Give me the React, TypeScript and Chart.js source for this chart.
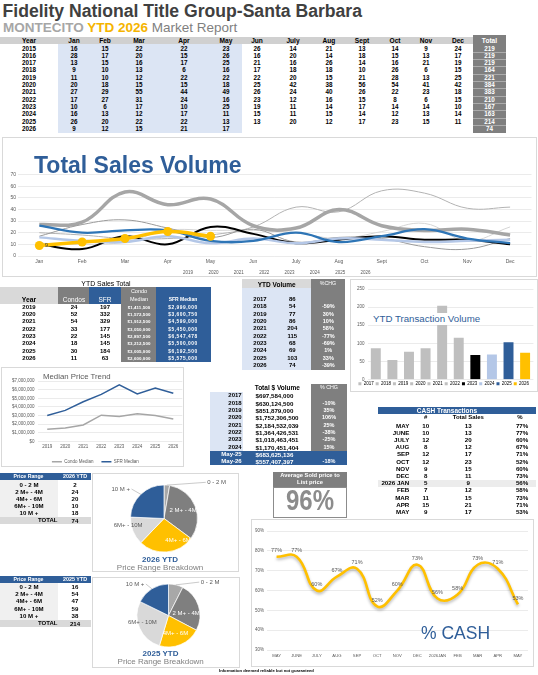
import React, { useEffect, useRef } from 'react';
import { Chart, registerables } from 'chart.js';

Chart.register(...registerables);

const FONT = '"Liberation Sans", Arial, Helvetica, sans-serif';
Chart.defaults.font.family = FONT;
Chart.defaults.color = '#595959';

const BLUE = '#2f5e99';
const LINE_BLUE = '#2e75b6';
const DGRAY = '#7f7f7f';
const LBLUE = '#dce5f4';
const HGRAY = '#d0d0d0';
const YELLOW = '#ffc000';
const BORDER = '#d9d9d9';

// ================= DATA =================
const monthHeaders = ['Jan', 'Feb', 'Mar', 'Apr', 'May', 'Jun', 'July', 'Aug', 'Sept', 'Oct', 'Nov', 'Dec'];
const tableYears = ['2015', '2016', '2017', '2018', '2019', '2020', '2021', '2022', '2023', '2024', '2025', '2026'];
const sales2015 = [16, 15, 22, 22, 23, 26, 14, 21, 13, 14, 9, 24];
const sales2016 = [28, 17, 20, 15, 26, 16, 20, 14, 18, 15, 13, 17];
const sales2017 = [13, 15, 16, 17, 25, 21, 16, 26, 14, 16, 21, 19];
const sales2018 = [9, 10, 13, 6, 16, 17, 18, 18, 10, 26, 6, 15];
const sales2019 = [11, 10, 12, 22, 22, 22, 20, 15, 21, 28, 13, 25];
const sales2020 = [20, 18, 15, 15, 18, 25, 42, 38, 56, 54, 41, 42];
const sales2021 = [27, 29, 55, 44, 49, 26, 24, 40, 26, 22, 23, 18];
const sales2022 = [17, 27, 31, 24, 16, 23, 12, 16, 15, 8, 6, 15];
const sales2023 = [10, 6, 17, 10, 25, 19, 11, 14, 17, 14, 14, 10];
const sales2024 = [16, 13, 12, 17, 11, 15, 11, 15, 14, 12, 13, 14];
const sales2025 = [26, 20, 22, 22, 13, 13, 20, 12, 17, 23, 15, 11];
const sales2026 = [9, 12, 15, 21, 17];
const yearTotals = [219, 219, 219, 164, 221, 384, 383, 210, 167, 163, 214, 74];
const tableRows = [sales2015, sales2016, sales2017, sales2018, sales2019, sales2020, sales2021, sales2022, sales2023, sales2024, sales2025, sales2026];

const lineYears = ['2019', '2020', '2021', '2022', '2023', '2024', '2025', '2026'];
const lineSeries = [sales2019, sales2020, sales2021, sales2022, sales2023, sales2024, sales2025, sales2026];

const ytdYears = ['2019', '2020', '2021', '2022', '2023', '2024', '2025', '2026'];
const ytdCondos = [24, 52, 54, 33, 22, 18, 30, 11];
const ytdSfr = [197, 332, 329, 177, 145, 145, 184, 63];
const condoMedian = [1411500, 1572500, 1912500, 3050000, 2897500, 3212500, 3005000, 2600000];
const sfrMedian = [2999000, 3600750, 4599000, 5450000, 6547478, 5500000, 6192500, 5575000];

const volYears = ['2017', '2018', '2019', '2020', '2021', '2022', '2023', '2024', '2025', '2026'];
const volValues = [86, 54, 77, 86, 204, 115, 68, 69, 103, 74];
const volChg = ['', '-59%', '30%', '10%', '58%', '-77%', '-69%', '1%', '33%', '-39%'];

const dollarLabels = ['2017', '2018', '2019', '2020', '2021', '2022', '2023', '2024', 'May-25', 'May-26'];
const dollarValues = ['$697,584,000', '$630,124,500', '$851,879,000', '$1,752,306,500', '$2,184,532,039', '$1,364,426,531', '$1,018,463,451', '$1,170,451,404', '$683,625,136', '$557,407,397'];
const dollarChg = ['', '-10%', '35%', '106%', '25%', '-38%', '-25%', '15%', '', '-18%'];

const cashMonths = ['MAY', 'JUNE', 'JULY', 'AUG', 'SEP', 'OCT', 'NOV', 'DEC', '2026 JAN', 'FEB', 'MAR', 'APR', 'MAY'];
const cashAxisLabels = ['MAY', 'JUNE', 'JULY', 'AUG', 'SEP', 'OCT', 'NOV', 'DEC', '2026JAN', 'FEB', 'MAR', 'APR', 'MAY'];
const cashCount = [10, 10, 12, 8, 12, 12, 9, 8, 5, 7, 11, 15, 9];
const cashTotal = [13, 13, 20, 12, 17, 23, 15, 11, 9, 12, 15, 21, 17];
const cashPct = [77, 77, 60, 67, 71, 52, 60, 73, 56, 58, 73, 71, 53];

const priceRanges = ['0 - 2 M', '2 M+ - 4M', '4M+ - 6M', '6M+ - 10M', '10 M +'];
const range2026 = [2, 24, 20, 10, 18];
const range2025 = [16, 54, 47, 59, 38];
const total2026 = 74;
const total2025 = 214;
const avgSoldToList = '96%';

// ================= STYLE HELPERS =================
const lineColors = ['#d5d5d5', '#b3b3b3', '#a6a6a6', '#9a9a9a', '#000000', '#b4c7e7', LINE_BLUE, YELLOW];
const lineWidths = [1, 1, 3.5, 1, 2, 2.5, 2.3, 3.5];
const volColors = ['#bfbfbf', '#bfbfbf', '#bfbfbf', '#bfbfbf', '#bfbfbf', '#bfbfbf', '#000000', '#b4c7e7', BLUE, YELLOW];
const pieColors = ['#a8a8a8', '#7f7f7f', YELLOW, '#d9d9d9', BLUE];

type TP = {
  x: number; cy: number; w: number; h?: number;
  children?: React.ReactNode;
  align?: 'left' | 'center' | 'right';
  size?: number; bold?: boolean; color?: string;
  style?: React.CSSProperties;
};
function T({ x, cy, w, h = 7, children, align = 'center', size = 6.3, bold = true, color = '#000', style }: TP) {
  return (
    <div style={{ position: 'absolute', left: x, top: cy - h / 2, width: w, height: h, lineHeight: `${h}px`, fontSize: size, fontWeight: bold ? 700 : 400, color, textAlign: align, whiteSpace: 'nowrap', ...style }}>
      {children}
    </div>
  );
}
function C(props: Omit<TP, 'x' | 'w'> & { cx: number; w?: number }) {
  const w = props.w ?? 60;
  const { cx, ...rest } = props;
  return <T {...rest} x={cx - w / 2} w={w} />;
}
function Rect({ x, y, w, h, bg, border }: { x: number; y: number; w: number; h: number; bg?: string; border?: string }) {
  return <div style={{ position: 'absolute', left: x, top: y, width: w, height: h, background: bg, border: border ? `1px solid ${border}` : undefined, boxSizing: 'border-box' }} />;
}
function ChartCanvas({ x, y, w, h, make }: { x: number; y: number; w: number; h: number; make: () => any }) {
  const ref = useRef<HTMLCanvasElement>(null);
  useEffect(() => {
    const chart = new Chart(ref.current as HTMLCanvasElement, make());
    return () => chart.destroy();
  }, []);
  return <canvas ref={ref} width={w} height={h} style={{ position: 'absolute', left: x, top: y, width: w, height: h }} />;
}

// ================= CHART CONFIGS =================
const firstPointLabel = {
  id: 'firstPointLabel',
  afterDatasetsDraw(chart: any) {
    const idx = chart.data.datasets.length - 1;
    const pt = chart.getDatasetMeta(idx).data[0];
    const ctx = chart.ctx;
    ctx.save();
    ctx.font = `6px ${FONT}`;
    ctx.fillStyle = '#404040';
    ctx.textAlign = 'left';
    ctx.textBaseline = 'middle';
    ctx.fillText(String(chart.data.datasets[idx].data[0]), pt.x + 5.3, pt.y - 0.3);
    ctx.restore();
  },
};

function makeSalesChart() {
  return {
    type: 'line',
    data: {
      labels: monthHeaders,
      datasets: lineYears.map((yr, i) => ({
        label: yr,
        data: lineSeries[i],
        borderColor: lineColors[i],
        backgroundColor: lineColors[i],
        borderWidth: lineWidths[i],
        tension: 0.4,
        fill: false,
        pointRadius: i === lineYears.length - 1 ? 4.5 : 0,
        pointBackgroundColor: YELLOW,
        pointBorderWidth: 0,
        order: lineYears.length - i,
      })),
    },
    options: {
      animation: false, responsive: false, events: [],
      layout: { padding: { top: 36.5, left: 5.4, right: 2, bottom: 0 } },
      scales: {
        x: { offset: true, grid: { display: false, drawTicks: false }, border: { display: false }, ticks: { font: { size: 5 }, padding: 2.2, color: '#595959' } },
        y: { min: 0, max: 70, ticks: { stepSize: 10, font: { size: 5 }, padding: 2, color: '#595959' }, grid: { color: '#e3e3e3', drawTicks: false, lineWidth: 0.7 }, border: { display: false } },
      },
      plugins: {
        legend: {
          position: 'bottom',
          labels: { usePointStyle: true, pointStyle: 'line', pointStyleWidth: 9, font: { size: 4.5 }, padding: 4.1, color: '#595959', sort: (a: any, b: any) => a.datasetIndex - b.datasetIndex },
        },
        tooltip: { enabled: false },
      },
    },
    plugins: [firstPointLabel],
  };
}

function makeMedianChart() {
  return {
    type: 'line',
    data: {
      labels: ytdYears,
      datasets: [
        { label: 'Condo Median', data: condoMedian, borderColor: '#a6a6a6', backgroundColor: '#a6a6a6', borderWidth: 1.5, pointRadius: 0, tension: 0 },
        { label: 'SFR Median', data: sfrMedian, borderColor: BLUE, backgroundColor: BLUE, borderWidth: 1.5, pointRadius: 0, tension: 0 },
      ],
    },
    options: {
      animation: false, responsive: false, events: [],
      layout: { padding: { top: 14, left: 6.3, right: 1.7, bottom: 0 } },
      scales: {
        x: { offset: true, grid: { display: false, drawTicks: false }, border: { display: false }, ticks: { font: { size: 4.5 }, padding: 2.3, color: '#595959' } },
        y: {
          min: 0, max: 7000000,
          ticks: { stepSize: 1000000, font: { size: 4.5 }, padding: 3.7, color: '#595959', callback: (v: any) => '$' + Number(v).toLocaleString('en-US') },
          grid: { color: '#e3e3e3', drawTicks: false, lineWidth: 0.7 }, border: { display: false },
        },
      },
      plugins: {
        legend: { position: 'bottom', labels: { usePointStyle: true, pointStyle: 'line', pointStyleWidth: 10, font: { size: 4.5 }, padding: 8, color: '#595959' } },
        tooltip: { enabled: false },
      },
    },
  };
}

function makeVolumeChart() {
  return {
    type: 'bar',
    data: { labels: volYears, datasets: [{ data: volValues, backgroundColor: volColors, barPercentage: 0.6, categoryPercentage: 1 }] },
    options: {
      animation: false, responsive: false, events: [],
      layout: { padding: { top: 7, left: 2, right: 2.6, bottom: 0 } },
      scales: {
        x: { display: false },
        y: { min: 0, max: 250, ticks: { stepSize: 50, font: { size: 4.5 }, padding: 3, color: '#595959' }, grid: { color: '#e3e3e3', drawTicks: false, lineWidth: 0.7 }, border: { display: false } },
      },
      plugins: {
        legend: {
          position: 'bottom',
          labels: {
            boxWidth: 3, boxHeight: 3, font: { size: 4.5 }, padding: 2, color: '#595959',
            generateLabels: () => volYears.map((t, i) => ({ text: t, fillStyle: volColors[i], strokeStyle: volColors[i], lineWidth: 0, hidden: false, index: i, datasetIndex: 0 })),
          },
        },
        tooltip: { enabled: false },
      },
    },
  };
}

const cashLabels = {
  id: 'cashLabels',
  beforeDatasetDraw(chart: any) {
    const ctx = chart.ctx;
    ctx.save();
    ctx.shadowColor = 'rgba(0,0,0,0.28)';
    ctx.shadowBlur = 3;
    ctx.shadowOffsetY = 2;
  },
  afterDatasetDraw(chart: any) {
    chart.ctx.restore();
  },
  afterDatasetsDraw(chart: any) {
    const ctx = chart.ctx;
    const meta = chart.getDatasetMeta(0);
    const data = chart.data.datasets[0].data;
    ctx.save();
    ctx.font = `5.5px ${FONT}`;
    ctx.fillStyle = '#595959';
    ctx.textAlign = 'center';
    ctx.textBaseline = 'bottom';
    meta.data.forEach((pt: any, i: number) => ctx.fillText(`${data[i]}%`, pt.x, pt.y - 3.5));
    ctx.restore();
  },
};

function makeCashChart() {
  return {
    type: 'line',
    data: { labels: cashAxisLabels, datasets: [{ data: cashPct, borderColor: YELLOW, borderWidth: 2.6, tension: 0.45, pointRadius: 0, fill: false }] },
    options: {
      animation: false, responsive: false, events: [],
      layout: { padding: { top: 12, left: 1.5, right: 5, bottom: 5.3 } },
      scales: {
        x: { offset: true, grid: { display: false, drawTicks: false }, border: { display: false }, ticks: { font: { size: 4.2 }, padding: 3.3, autoSkip: false, maxRotation: 0, color: '#595959' } },
        y: { min: 30, max: 90, ticks: { stepSize: 10, font: { size: 4.5 }, padding: 2.5, color: '#595959', callback: (v: any) => `${v}%` }, grid: { color: '#e3e3e3', drawTicks: false, lineWidth: 0.7 }, border: { display: false } },
      },
      plugins: { legend: { display: false }, tooltip: { enabled: false } },
    },
    plugins: [cashLabels],
  };
}

type PieSpec = { dx: number; dy: number; color: string; line?: boolean };
function pieLabelPlugin(specs: PieSpec[]) {
  return {
    id: 'pieLabels',
    afterDatasetsDraw(chart: any) {
      const ctx = chart.ctx;
      const meta = chart.getDatasetMeta(0);
      const texts = chart.data.labels;
      ctx.save();
      ctx.font = `6px ${FONT}`;
      ctx.textAlign = 'center';
      ctx.textBaseline = 'middle';
      meta.data.forEach((arc: any, i: number) => {
        const p = arc.getProps(['x', 'y', 'startAngle', 'endAngle', 'outerRadius'], true);
        const s = specs[i];
        const lx = p.x + s.dx * p.outerRadius;
        const ly = p.y + s.dy * p.outerRadius;
        if (s.line) {
          const mid = (p.startAngle + p.endAngle) / 2;
          const ex = p.x + Math.cos(mid) * p.outerRadius;
          const ey = p.y + Math.sin(mid) * p.outerRadius;
          const tw = ctx.measureText(texts[i]).width;
          const tx = s.dx > 0 ? lx - tw / 2 - 1.5 : lx + tw / 2 + 1.5;
          ctx.strokeStyle = '#a6a6a6';
          ctx.lineWidth = 0.6;
          ctx.beginPath();
          ctx.moveTo(ex, ey);
          ctx.lineTo(tx, ly);
          ctx.stroke();
        }
        ctx.fillStyle = s.color;
        ctx.fillText(texts[i], lx, ly);
      });
      ctx.restore();
    },
  };
}

const pie2026Specs: PieSpec[] = [
  { dx: 1.57, dy: -1.08, color: '#595959', line: true },
  { dx: 0.57, dy: -0.25, color: '#ffffff' },
  { dx: 0.42, dy: 0.64, color: '#ffffff' },
  { dx: -1.07, dy: 0.19, color: '#595959' },
  { dx: -1.29, dy: -0.88, color: '#595959', line: true },
];
const pie2025Specs: PieSpec[] = [
  { dx: 1.32, dy: -1.06, color: '#595959', line: true },
  { dx: 0.56, dy: -0.06, color: '#ffffff' },
  { dx: 0.22, dy: 0.56, color: '#ffffff' },
  { dx: -0.83, dy: 0.21, color: '#595959' },
  { dx: -1.06, dy: -1.0, color: '#595959', line: true },
];

function makePie(values: number[], specs: PieSpec[], padding: any) {
  return () => ({
    type: 'pie',
    data: { labels: priceRanges, datasets: [{ data: values, backgroundColor: pieColors, borderColor: '#ffffff', borderWidth: 0.7 }] },
    options: {
      animation: false, responsive: false, events: [],
      layout: { padding },
      plugins: { legend: { display: false }, tooltip: { enabled: false } },
    },
    plugins: [pieLabelPlugin(specs)],
  });
}

// ================= LAYOUT CONSTANTS =================
const topCols = [29, 74, 105, 139, 184, 226, 257, 293, 329, 362, 395, 426, 458];
const ytdCols = [29, 74, 105, 139, 183];

function PriceTable({ top, rowTop, rowH, yearLabel, values, total }: { top: number; rowTop: number; rowH: number; yearLabel: string; values: number[]; total: number }) {
  const totalCy = rowTop + values.length * rowH + rowH / 2 + 0.6;
  return (
    <>
      <Rect x={0} y={top} w={90.5} h={6.5} bg={BLUE} />
      <C cx={28.5} cy={top + 3.3} h={6.5} size={5.2} color="#fff">Price Range</C>
      <C cx={75} cy={top + 3.3} h={6.5} size={5.4} color="#fff">{yearLabel}</C>
      <Rect x={0} y={top + 6.5} w={58.3} h={values.length * rowH + 1} bg="#f0f0f0" />
      {values.map((v, i) => (
        <React.Fragment key={i}>
          <C cx={29} cy={rowTop + i * rowH + rowH / 2} size={6.1}>{priceRanges[i]}</C>
          <C cx={75} cy={rowTop + i * rowH + rowH / 2} size={6.1}>{v}</C>
        </React.Fragment>
      ))}
      <Rect x={0} y={totalCy - 3.8} w={90.5} h={7.6} bg="#d9d9d9" />
      <T x={10} w={47.5} cy={totalCy} align="right" size={6}>TOTAL</T>
      <C cx={75} cy={totalCy} size={6.1}>{total}</C>
    </>
  );
}

export default function App() {
  useEffect(() => {
    document.body.style.margin = '0';
  }, []);
  return (
    <div style={{ position: 'absolute', left: 0, top: 0, width: 538, height: 675, background: '#fff', fontFamily: FONT, overflow: 'hidden' }}>
      {/* Titles */}
      <T x={2.5} w={520} cy={10.5} h={20} size={17.6} color="#404040" align="left">Fidelity National Title Group-Santa Barbara</T>
      <T x={3} w={400} cy={27.5} h={15} size={13.5} align="left" bold={false} color="#7f7f7f">
        <span style={{ fontWeight: 700, color: '#a6a6a6' }}>MONTECITO </span>
        <span style={{ fontWeight: 700, color: '#f5b400' }}>YTD 2026 </span>
        <span>Market Report</span>
      </T>

      {/* Monthly table */}
      <Rect x={0} y={37.3} w={473} h={7.1} bg={HGRAY} />
      <Rect x={58.3} y={44.4} w={184} h={88.3} bg={LBLUE} />
      <Rect x={473} y={35} w={33} h={98} bg={DGRAY} />
      {tableYears.slice(1).map((yr, r) => (
        <div key={'sep' + yr} style={{ position: 'absolute', left: 473, top: 44.4 + (r + 1) * 7.32, width: 33, height: 0.6, background: 'rgba(255,255,255,0.35)' }} />
      ))}
      <C cx={topCols[0]} cy={40.9} size={6.6}>Year</C>
      {monthHeaders.map((m, i) => (
        <C key={m} cx={topCols[i + 1]} cy={40.9} size={6.6}>{m}</C>
      ))}
      <C cx={489.5} cy={40.3} size={6.6} color="#fff">Total</C>
      {tableYears.map((yr, r) => {
        const cy = 48 + r * 7.32;
        return (
          <React.Fragment key={yr}>
            <C cx={topCols[0]} cy={cy}>{yr}</C>
            {tableRows[r].map((v, c) => (
              <C key={c} cx={topCols[c + 1]} cy={cy} w={24}>{v}</C>
            ))}
            <C cx={489.5} cy={cy} color="#fff" w={30}>{yearTotals[r]}</C>
          </React.Fragment>
        );
      })}

      {/* Total Sales Volume chart */}
      <Rect x={2} y={137} w={535} h={140} border={BORDER} />
      <ChartCanvas x={3} y={138} w={533} h={147} make={makeSalesChart} />
      <T x={34} w={260} cy={165} h={26} size={23} color={BLUE} align="left">Total Sales Volume</T>

      {/* YTD Sales Total table */}
      <C cx={106} cy={283} size={6.9} bold={false} w={80}>YTD Sales Total</C>
      <Rect x={0} y={287} w={58.3} h={16.7} bg="#d9d9d9" />
      <Rect x={58.3} y={287} w={31} h={16.7} bg={DGRAY} />
      <Rect x={89.3} y={287} w={32} h={16.7} bg={BLUE} />
      <Rect x={121.3} y={287} w={35} h={75} bg={DGRAY} />
      <Rect x={156.3} y={287} w={54.3} h={75} bg={BLUE} />
      <C cx={29} cy={299.7} size={6.8}>Year</C>
      <C cx={74} cy={299.7} size={6.5} bold={false} color="#fff">Condos</C>
      <C cx={105} cy={299.7} size={6.5} bold={false} color="#fff">SFR</C>
      <C cx={139} cy={291.5} size={5.5} bold={false} color="#fff">Condo</C>
      <C cx={139} cy={299} size={5.5} bold={false} color="#fff">Median</C>
      <C cx={183} cy={299.7} size={5} color="#fff">SFR Median</C>
      {ytdYears.map((yr, r) => {
        const cy = 307.3 + r * 7.29;
        return (
          <React.Fragment key={yr}>
            <C cx={ytdCols[0]} cy={cy} size={6}>{yr}</C>
            <C cx={ytdCols[1]} cy={cy} size={6}>{ytdCondos[r]}</C>
            <C cx={ytdCols[2]} cy={cy} size={6}>{ytdSfr[r]}</C>
            <C cx={ytdCols[3]} cy={cy} size={4.4} color="#fff" style={{ letterSpacing: 0.1 }}>{'$' + condoMedian[r].toLocaleString('en-US')}</C>
            <C cx={ytdCols[4]} cy={cy} size={4.8} color="#fff" style={{ letterSpacing: 0.55 }}>{'$' + sfrMedian[r].toLocaleString('en-US')}</C>
          </React.Fragment>
        );
      })}

      {/* Median Price Trend */}
      <Rect x={1} y={367} w={183} h={100} border={BORDER} />
      <ChartCanvas x={2} y={367} w={182} h={107} make={makeMedianChart} />
      <T x={43} w={100} cy={377.2} h={10} size={7.8} bold={false} color="#595959" align="left">Median Price Trend</T>

      {/* YTD Volume table */}
      <Rect x={241.7} y={278.5} w={69.3} h={9.5} bg="#d9d9d9" />
      <Rect x={241.7} y={288} w={69.3} h={82} bg={LBLUE} />
      <Rect x={311} y={278.5} w={34} h={91.5} bg={DGRAY} />
      <C cx={276.7} cy={284} size={6.5}>YTD Volume</C>
      <C cx={328} cy={283.5} size={5.3} bold={false} color="#fff">%CHG</C>
      {volYears.map((yr, r) => {
        const cy = 299.7 + r * 7.29;
        return (
          <React.Fragment key={yr}>
            <C cx={260} cy={cy} size={6}>{yr}</C>
            <C cx={292.3} cy={cy} size={6}>{volValues[r]}</C>
            <C cx={328.3} cy={cy} size={5.5} color="#fff">{volChg[r]}</C>
          </React.Fragment>
        );
      })}

      {/* YTD Transaction Volume chart */}
      <Rect x={350} y={279} w={188} h={113} border={BORDER} />
      <ChartCanvas x={352} y={282} w={184} h={114} make={makeVolumeChart} />
      <T x={372} w={112} cy={318.8} h={11.5} size={9.7} bold={false} color={BLUE} align="left" style={{ background: '#fff', paddingLeft: 1 }}>YTD Transaction Volume</T>

      {/* Total $ Volume table */}
      <Rect x={210} y={391.7} w={33.3} h={58.9} bg={LBLUE} />
      <Rect x={311} y={384} w={35.7} h={66.6} bg={DGRAY} />
      <Rect x={210} y={450.6} w={136.7} h={14.8} bg={BLUE} />
      <C cx={277.3} cy={387.7} size={6.5}>Total $ Volume</C>
      <C cx={329} cy={387.7} size={5.3} bold={false} color="#fff">% CHG</C>
      {dollarLabels.map((lb, r) => {
        const cy = 395.7 + r * 7.33;
        const white = r >= 8;
        return (
          <React.Fragment key={lb + r}>
            <T x={200} w={41.7} cy={cy} align="right" size={6} color={white ? '#fff' : '#000'}>{lb}</T>
            <T x={255.5} w={60} cy={cy} align="left" size={6.2} color={white ? '#fff' : '#000'}>{dollarValues[r]}</T>
            <C cx={329} cy={cy} size={5.5} color="#fff">{dollarChg[r]}</C>
          </React.Fragment>
        );
      })}

      {/* CASH transactions */}
      <Rect x={378.3} y={406.7} w={158} h={7} bg={BLUE} />
      <C cx={447} cy={410.2} size={6.5} color="#fff" w={100}>CASH Transactions</C>
      <C cx={425.7} cy={417.7} size={6}>#</C>
      <C cx={468.3} cy={417.7} size={6}>Total Sales</C>
      <C cx={520} cy={417.7} size={6}>%</C>
      <Rect x={378.3} y={479.6} w={158} h={7.3} bg="#ececec" />
      {cashMonths.map((m, r) => {
        const cy = 425 + r * 7.22;
        return (
          <React.Fragment key={m + r}>
            <T x={360} w={49.3} cy={cy} align="right" size={6.2}>{m}</T>
            <C cx={425.7} cy={cy} size={6.2}>{cashCount[r]}</C>
            <C cx={468.3} cy={cy} size={6.2}>{cashTotal[r]}</C>
            <T x={500} w={28.3} cy={cy} align="right" size={6.2}>{cashPct[r]}%</T>
          </React.Fragment>
        );
      })}

      {/* Average sold price to list */}
      <Rect x={273.3} y={471.7} w={73.4} h={15} bg={DGRAY} />
      <C cx={310} cy={475.7} size={5.8} color="#fff" w={74}>Average Sold price to</C>
      <C cx={310} cy={482.7} size={5.8} color="#fff" w={74}>List price</C>
      <Rect x={273.3} y={486.7} w={73.4} h={31} border="#8c8c8c" />
      <C cx={310} cy={500} h={30} size={30} color="#8c8c8c" w={80} style={{ transform: 'scaleX(0.8)' }}>{avgSoldToList}</C>

      {/* Price range tables */}
      <PriceTable top={473.3} rowTop={480.4} rowH={7.2} yearLabel="2026 YTD" values={range2026} total={total2026} />
      <PriceTable top={576} rowTop={582.3} rowH={7.4} yearLabel="2025 YTD" values={range2025} total={total2025} />

      {/* Pie 2026 */}
      <Rect x={92} y={473} w={147} h={99} border={BORDER} />
      <ChartCanvas x={93} y={476} w={146} h={80} make={makePie(range2026, pie2026Specs, { left: 37.15, right: 41.15, top: 8.65, bottom: 3.65 })} />
      <C cx={160} cy={560} h={10} size={8} color={BLUE} w={80}>2026 YTD</C>
      <C cx={160} cy={567.7} h={10} size={8} bold={false} color="#808080" w={120}>Price Range Breakdown</C>

      {/* Pie 2025 */}
      <Rect x={92} y={577} w={148} h={91} border={BORDER} />
      <ChartCanvas x={93} y={578} w={146} h={72} make={makePie(range2025, pie2025Specs, { left: 43.65, right: 38.65, top: 5.65, bottom: 2.65 })} />
      <C cx={160.5} cy={654.3} h={10} size={8} color={BLUE} w={80}>2025 YTD</C>
      <C cx={160.7} cy={662.3} h={10} size={8} bold={false} color="#808080" w={120}>Price Range Breakdown</C>

      {/* % CASH chart */}
      <Rect x={250.5} y={519} w={283} h={148} border={BORDER} />
      <ChartCanvas x={251} y={519} w={282} h={148} make={makeCashChart} />
      <T x={421} w={90} cy={633.3} h={20} size={17.5} bold={false} color={BLUE} align="left">% CASH</T>

      {/* Footer */}
      <T x={219} w={120} cy={670.7} h={5} size={4.2} align="left">Information deemed reliable but not guaranteed</T>
    </div>
  );
}
